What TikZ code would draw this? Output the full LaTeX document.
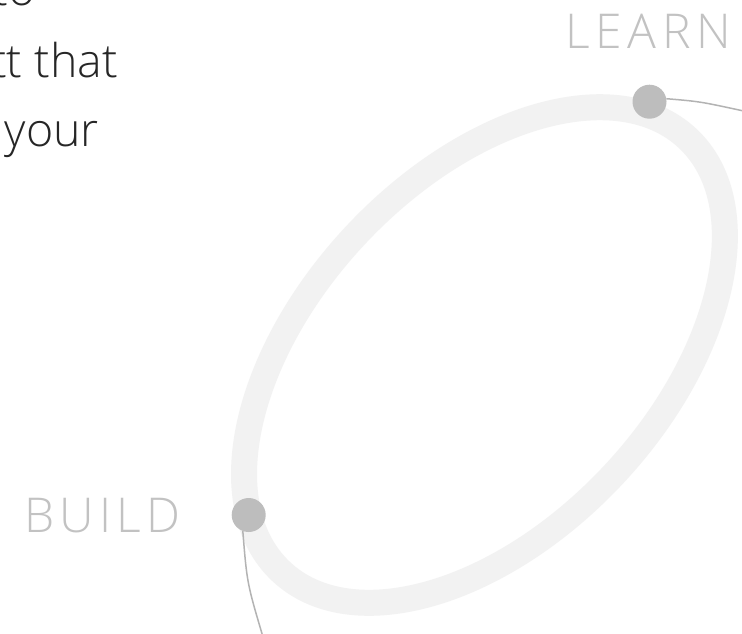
\documentclass[tikz,border=0pt]{standalone}
\usepackage{fontspec}
\setmainfont{Open Sans Light}
\definecolor{ringgray}{HTML}{F2F2F2}
\definecolor{dotgray}{HTML}{BDBDBD}
\definecolor{linegray}{HTML}{B3B3B3}
\definecolor{labelgray}{HTML}{C2C2C2}
\definecolor{textdark}{HTML}{262626}
\tikzset{
  ring/.style={draw=ringgray, line width=26pt},
  dotnode/.style={circle, fill=dotgray, minimum size=34pt, inner sep=0pt},
  thinline/.style={draw=linegray, line width=1.5pt},
  label/.style={text=labelgray, font=\fontsize{48}{56}\selectfont, inner sep=0pt},
  body/.style={text=textdark, font=\fontsize{46.5}{56}\selectfont, inner sep=0pt, anchor=base east}
}
\begin{document}
\begin{tikzpicture}[x=1pt,y=-1pt]
\useasboundingbox (0,0) rectangle (742,633);
\fill[white] (0,0) rectangle (742,633);
\coordinate (c) at (484.5,355);
\draw[ring, rotate around={46.8:(c)}] (c) ellipse [x radius=297, y radius=176];
\node[dotnode] (ldot) at (649.5,101.7) {};
\node[dotnode] (bdot) at (248.7,515) {};
\coordinate (lend) at (746,111.5);
\coordinate (bend) at (263,637);
\draw[thinline] (ldot.10) .. controls (700,101.5) .. (lend);
\draw[thinline] (bdot.-110) .. controls (247,583) .. (bend);
\node[label, anchor=base west] (learn) at (565,48) {L\kern5.8pt E\kern5.8pt A\kern5.8pt R\kern5.8pt N};
\node[label, anchor=base west] (build) at (24,532) {B\kern5.2pt U\kern5.2pt I\kern5.2pt L\kern5.2pt D};
\node[body] (t1) at (36,5.5) {to};
\node[body] (t2) at (118,77) {tt that};
\node[body] (t3) at (99,146) {your};
\end{tikzpicture}
\end{document}
